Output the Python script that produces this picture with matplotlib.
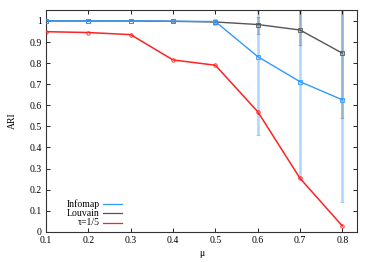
import numpy as np
import matplotlib
matplotlib.use("Agg")
import matplotlib.pyplot as plt

plt.rcParams['font.family'] = ['Liberation Serif', 'DejaVu Serif']
plt.rcParams['font.size'] = 7

mu = [0.1, 0.2, 0.3, 0.4, 0.5, 0.6, 0.7, 0.8]

infomap = [1.0, 1.0, 1.0, 0.999, 0.997, 0.831, 0.712, 0.626]
infomap_lo = [1.0, 1.0, 1.0, 0.997, 0.99, 0.46, 0.257, 0.14]
infomap_hi = [1.0, 1.0, 1.0, 1.0, 1.0, 1.2, 1.2, 1.2]

louvain = [1.0, 1.0, 1.0, 0.998, 0.995, 0.983, 0.957, 0.847]
louvain_lo = [1.0, 1.0, 1.0, 0.988, 0.98, 0.94, 0.886, 0.54]
louvain_hi = [1.0, 1.0, 1.0, 1.008, 1.01, 1.02, 1.2, 1.2]

tau = [0.949, 0.945, 0.935, 0.815, 0.79, 0.57, 0.254, 0.028]

blue = '#3399ff'
grey = '#555555'
red = '#ff2222'

fig = plt.figure(figsize=(3.74, 2.62), dpi=100)
ax = fig.add_axes([0.123, 0.115, 0.832, 0.847])

def err(ax, vals, lo, hi, color, alpha):
    vals = np.array(vals)
    yerr = [vals - np.array(lo), np.array(hi) - vals]
    ax.errorbar(mu, vals, yerr=yerr, fmt='none', ecolor=color, elinewidth=1.8,
                capsize=1.5, capthick=0.8, alpha=alpha, zorder=1)

err(ax, infomap, infomap_lo, infomap_hi, blue, 0.4)
err(ax, louvain, louvain_lo, louvain_hi, grey, 0.3)

ax.plot(mu, infomap, color=blue, lw=1.0, marker='s', ms=2.5, mfc='none', mew=0.6, zorder=3)
ax.plot(mu, louvain, color=grey, lw=1.0, marker='s', ms=2.5, mfc='none', mew=0.6, zorder=2)
ax.plot(mu, tau, color=red, lw=1.1, marker='o', ms=2.5, mfc='none', mew=0.6, zorder=4)

ax.set_xlim(0.1, 0.835)
ax.set_ylim(0, 1.052)
ax.set_xticks(mu)
ax.set_xticklabels(['0.1', '0.2', '0.3', '0.4', '0.5', '0.6', '0.7', '0.8'])
yt = [0, 0.1, 0.2, 0.3, 0.4, 0.5, 0.6, 0.7, 0.8, 0.9, 1]
ax.set_yticks(yt)
ax.set_yticklabels(['0', '0.1', '0.2', '0.3', '0.4', '0.5', '0.6', '0.7', '0.8', '0.9', '1'])
ax.tick_params(direction='in', top=True, right=True, length=3, width=0.6, pad=3)
for s in ax.spines.values():
    s.set_linewidth(0.8)
    s.set_color('#333333')

ax.set_xlabel('μ', labelpad=3)
ax.set_ylabel('ARI', labelpad=9)

# gnuplot-style key, labels right-aligned left of the line samples
labels = ['Infomap', 'Louvain', 'τ=1/5']
colors = [blue, grey, red]
for i, (lab, c) in enumerate(zip(labels, colors)):
    yy = 0.125 - i * 0.042
    ax.text(0.172, yy, lab, transform=ax.transAxes, ha='right', va='center')
    ax.plot([0.183, 0.245], [yy, yy], transform=ax.transAxes, color=c, lw=0.9)

fig.savefig('out.png', dpi=100)
